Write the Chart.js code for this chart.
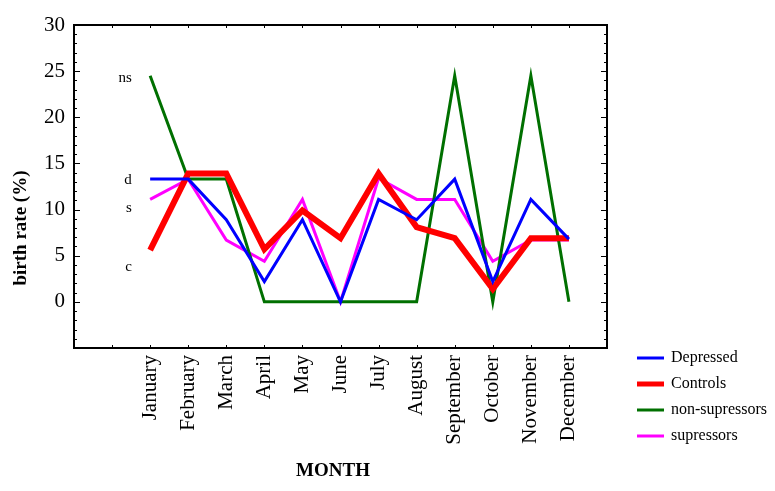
<!DOCTYPE html>
<html>
<head>
<meta charset="utf-8">
<script src="https://cdn.jsdelivr.net/npm/chart.js@4.4.1/dist/chart.umd.min.js"></script>
<style>
  html, body { margin: 0; padding: 0; background: #fff; }
</style>
</head>
<body>
<canvas id="birthChart" width="775" height="491"></canvas>
<script>
const months = ['January','February','March','April','May','June','July','August','September','October','November','December'];
const depressed     = [13.3, 13.3, 8.9, 2.2, 8.9, 0, 11.1, 8.9, 13.3, 2.2, 11.1, 6.8];
const controls      = [5.6, 13.9, 13.9, 5.7, 9.9, 6.9, 13.9, 8.1, 6.9, 1.4, 6.9, 6.9];
const nonSupressors = [24.5, 13.3, 13.3, 0, 0, 0, 0, 0, 24.5, 0, 24.5, 0];
const supressors    = [11.1, 13.3, 6.7, 4.4, 11.1, 0, 13.4, 11.1, 11.1, 4.4, 6.7, 6.7];
const yTicks = [0, 5, 10, 15, 20, 25, 30];
// little group marks written left of January
const groupMarks = [['ns', 24.3], ['d', 13.2], ['s', 10.2], ['c', 3.8]];

const serif = '"Liberation Serif", "DejaVu Serif", serif';

function series(label, values, color, width) {
  return {
    label: label,
    data: values.map((v, i) => ({ x: i + 1, y: v })),
    borderColor: color,
    backgroundColor: color,
    borderWidth: width,
    pointRadius: 0,
    tension: 0,
    fill: false
  };
}

// frame, inward ticks, axis titles, group marks and legend
const decorations = {
  id: 'decorations',
  afterDraw(chart) {
    const ctx = chart.ctx;
    const a = chart.chartArea;
    const xs = chart.scales.x, ys = chart.scales.y;
    ctx.save();
    ctx.strokeStyle = '#000';
    ctx.lineWidth = 2;
    ctx.strokeRect(a.left, a.top, a.right - a.left, a.bottom - a.top);

    ctx.lineWidth = 1;
    ctx.beginPath();
    for (let v = ys.min + 1; v < ys.max; v++) {
      const py = Math.round(ys.getPixelForValue(v)) + 0.5;
      const len = v % 5 === 0 ? 6 : 3;
      ctx.moveTo(a.left, py); ctx.lineTo(a.left + len, py);
      ctx.moveTo(a.right, py); ctx.lineTo(a.right - len, py);
    }
    for (let v = 0; v <= 12; v++) {
      const px = Math.round(xs.getPixelForValue(v)) + 0.5;
      ctx.moveTo(px, a.bottom); ctx.lineTo(px, a.bottom - 3);
      ctx.moveTo(px, a.top); ctx.lineTo(px, a.top + 3);
    }
    ctx.stroke();

    ctx.fillStyle = '#000';
    ctx.font = '15px ' + serif;
    ctx.textAlign = 'right';
    ctx.textBaseline = 'middle';
    groupMarks.forEach(([t, v]) => {
      ctx.fillText(t, xs.getPixelForValue(0.52), ys.getPixelForValue(v));
    });

    ctx.font = 'bold 19px ' + serif;
    ctx.textAlign = 'center';
    ctx.fillText('MONTH', 333, 471);
    ctx.save();
    ctx.translate(21, 228);
    ctx.rotate(-Math.PI / 2);
    ctx.fillText('birth rate (%)', 0, 0);
    ctx.restore();

    ctx.font = '16px ' + serif;
    ctx.textAlign = 'left';
    chart.data.datasets.forEach((ds, i) => {
      const py = 358 + i * 26;
      ctx.strokeStyle = ds.borderColor;
      ctx.lineWidth = ds.borderWidth > 4 ? 5 : 3;
      ctx.beginPath();
      ctx.moveTo(637, py); ctx.lineTo(664, py);
      ctx.stroke();
      ctx.fillText(ds.label, 671, py);
    });
    ctx.restore();
  }
};

const config = {
  type: 'line',
  data: {
    datasets: [
      series('Depressed', depressed, '#0000ff', 3),
      series('Controls', controls, '#ff0000', 6),
      series('non-supressors', nonSupressors, '#007000', 3),
      series('supressors', supressors, '#ff00ff', 3)
    ]
  },
  options: {
    responsive: false,
    animation: false,
    layout: { padding: { top: 25, right: 168, left: 0, bottom: 0 } },
    plugins: { legend: { display: false }, tooltip: { enabled: false } },
    scales: {
      x: {
        type: 'linear',
        min: -1,
        max: 13,
        grid: { display: false, drawTicks: false },
        border: { display: false },
        afterBuildTicks: (scale) => { scale.ticks = months.map((m, i) => ({ value: i + 1 })); },
        afterFit: (scale) => { scale.height = 143; },
        ticks: {
          autoSkip: false,
          minRotation: 90,
          maxRotation: 90,
          padding: 7,
          color: '#000',
          font: { family: serif, size: 21 },
          callback: (v) => months[v - 1]
        }
      },
      y: {
        min: -5,
        max: 30,
        grid: { display: false, drawTicks: false },
        border: { display: false },
        afterBuildTicks: (scale) => { scale.ticks = yTicks.map(v => ({ value: v })); },
        afterFit: (scale) => { scale.width = 74; },
        ticks: {
          padding: 9,
          color: '#000',
          font: { family: serif, size: 21 }
        }
      }
    }
  },
  plugins: [decorations]
};

const context = document.getElementById('birthChart').getContext('2d');
let chart = new Chart(context, config);
</script>
</body>
</html>
